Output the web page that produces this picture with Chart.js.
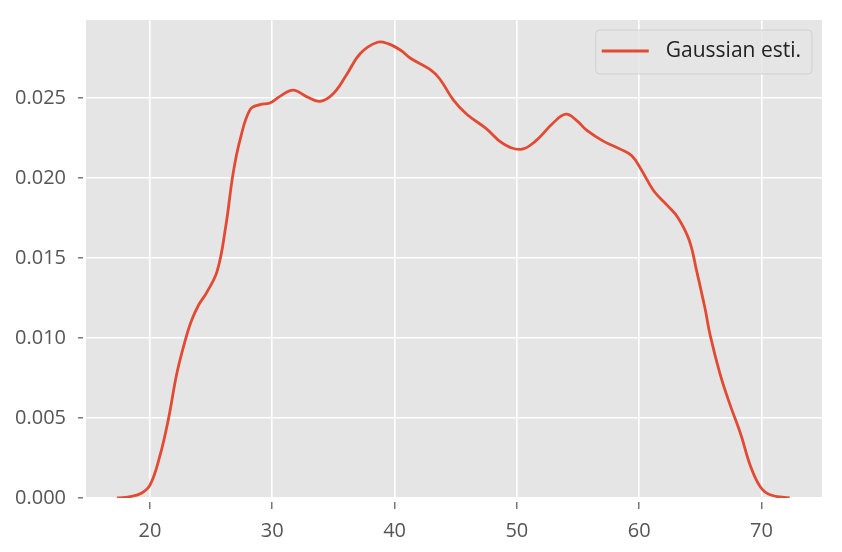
<!DOCTYPE html>
<html>
<head>
<meta charset="utf-8">
<script src="https://cdn.jsdelivr.net/npm/chart.js@4/dist/chart.umd.min.js"></script>
<style>
  html, body { margin: 0; padding: 0; background: #fff; }
  #wrap { width: 842px; height: 552px; }
</style>
</head>
<body>
<div id="wrap"><canvas id="chartdiv" width="842" height="552"></canvas></div>
<script>
// kde curve
var ages = [17.3, 18.5, 19.3, 20.0, 20.8, 21.5, 22.2, 22.9, 23.4, 24.0, 24.6, 25.5, 26.2,
            26.8, 27.4, 28.2, 29.0, 29.8, 30.6, 31.7, 32.8, 33.9, 35.0, 36.1, 37.2, 38.6, 39.5,
            40.5, 41.3, 42.9, 43.7, 44.8, 45.9, 47.5, 48.8, 50.3, 51.5, 52.9, 54.0, 54.9, 55.7,
            57.1, 58.5, 59.4, 60.2, 61.2, 62.3, 63.2, 64.1, 64.7, 65.4, 65.8, 66.6, 67.4,
            68.3, 69.1, 69.9, 70.7, 72.3];
var density = [0.0000, 0.0001, 0.0003, 0.0008, 0.0026, 0.0049, 0.0078, 0.0099, 0.0111, 0.0121, 0.0128, 0.0142, 0.0170,
               0.0203, 0.0225, 0.0243, 0.0246, 0.0247, 0.0251, 0.0255, 0.0251, 0.0248, 0.0253, 0.0265, 0.0278, 0.0285, 0.0284,
               0.0280, 0.0275, 0.0268, 0.0262, 0.0249, 0.0240, 0.0231, 0.0222, 0.0218, 0.0223, 0.0234, 0.0240, 0.0236, 0.0230,
               0.0223, 0.0218, 0.0214, 0.0205, 0.0192, 0.0183, 0.0175, 0.0161, 0.0142, 0.0118, 0.0102, 0.0078, 0.0059,
               0.0040, 0.0020, 0.0007, 0.0002, 0.0000];
var xTicks = [20, 30, 40, 50, 60, 70];
var yTicks = [0, 0.005, 0.010, 0.015, 0.020, 0.025];
var seriesLabel = 'Gaussian esti.';

var points = [];
for (var i = 0; i < ages.length; i++) {
    points.push({x: ages[i], y: density[i]});
}

var tickFont = {family: 'Open Sans', size: 20};

// grey panel behind the grid
var panelBg = {
    id: 'panelBg',
    beforeDraw: function(chart) {
        var a = chart.chartArea, c = chart.ctx;
        c.save();
        c.fillStyle = '#e5e5e5';
        c.fillRect(a.left, a.top, a.right - a.left, a.bottom - a.top);
        c.restore();
    }
};

// matplotlib-like legend box in the upper right
var mplLegend = {
    id: 'mplLegend',
    afterDraw: function(chart) {
        var a = chart.chartArea, c = chart.ctx;
        var ds = chart.data.datasets[0];
        c.save();
        c.font = '21px "Open Sans"';
        var tw = c.measureText(ds.label).width;
        var w = 6 + 47 + 17 + tw + 11, h = 44;
        var x = a.right - 10 - w, y = a.top + 10;
        c.beginPath();
        c.roundRect(x, y, w, h, 4);
        c.fillStyle = 'rgba(229,229,229,0.8)';
        c.fill();
        c.strokeStyle = 'rgba(204,204,204,0.8)';
        c.lineWidth = 1;
        c.stroke();
        c.beginPath();
        c.moveTo(x + 6, y + 21);
        c.lineTo(x + 53, y + 21);
        c.strokeStyle = ds.borderColor;
        c.lineWidth = 3;
        c.stroke();
        c.fillStyle = '#222';
        c.textBaseline = 'middle';
        c.fillText(ds.label, x + 70, y + 21);
        c.restore();
    }
};

var ctxgen = document.getElementById('chartdiv').getContext('2d');
var chartgen = new Chart(ctxgen, {
    type: 'line',
    data: {
        datasets: [{
            label: seriesLabel,
            data: points,
            borderColor: '#e24a33',
            borderWidth: 2.8,
            pointRadius: 0,
            fill: false,
            tension: 0.4
        }]
    },
    options: {
        responsive: false,
        animation: false,
        layout: {padding: {top: 20, right: 20, left: 0, bottom: 0}},
        plugins: {
            legend: {display: false},
            tooltip: {enabled: false}
        },
        scales: {
            x: {
                type: 'linear',
                min: 14.77,
                max: 74.95,
                afterBuildTicks: function(s) { s.ticks = xTicks.map(function(v){ return {value: v}; }); },
                afterFit: function(s) { s.height = 54; s.paddingLeft = 0; s.paddingRight = 0; },
                grid: {color: '#ffffff', lineWidth: 1.6, tickColor: '#555', tickLength: 11, tickWidth: 1.2, tickBorderDash: [0, 4, 7, 40]},
                border: {display: false},
                ticks: {color: '#555', font: tickFont, padding: 10, maxRotation: 0,
                        callback: function(v) { return String(v); }}
            },
            y: {
                min: 0,
                max: 0.02989,
                afterBuildTicks: function(s) { s.ticks = yTicks.map(function(v){ return {value: v}; }); },
                afterFit: function(s) { s.width = 86; s.paddingTop = 0; s.paddingBottom = 0; },
                grid: {color: '#ffffff', lineWidth: 1.6, tickColor: '#555', tickLength: 8, tickWidth: 1.2, tickBorderDash: [5, 3]},
                border: {display: false},
                ticks: {color: '#555', font: tickFont, padding: 12,
                        callback: function(v) { return v.toFixed(3); }}
            }
        }
    },
    plugins: [panelBg, mplLegend]
});
</script>
</body>
</html>
